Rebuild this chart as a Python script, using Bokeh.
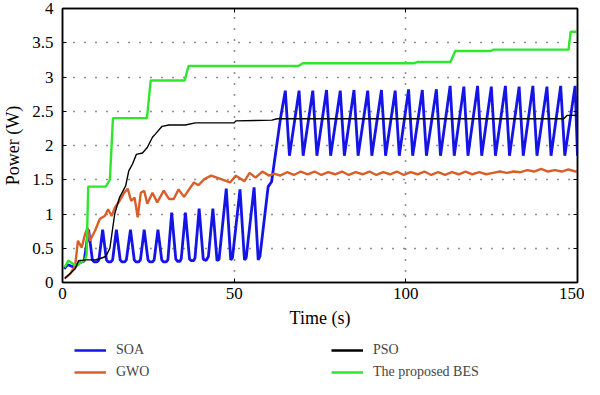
from bokeh.plotting import figure
from bokeh.models import Range1d, FixedTicker, LinearAxis, Legend, LegendItem
from bokeh.layouts import column
from bokeh.embed import file_html
from bokeh.resources import INLINE

# ---------------- data ----------------
soa_t = [0.5, 1.5, 2.5, 3.5, 4.5, 5.5, 6.3, 7.6,
         8.7, 9.2, 10.0, 10.6, 11.7,
         12.8, 13.3, 14.1, 14.6, 15.7,
         16.8, 17.3, 18.1, 18.6, 19.8,
         20.9, 21.4, 22.2, 22.7, 23.8,
         24.9, 25.4, 26.2, 26.7, 27.8,
         28.9, 29.4, 30.2, 30.7, 31.8,
         33.0, 33.5, 34.2, 34.6, 35.8,
         37.0, 37.5, 38.2, 38.6, 39.8,
         41.0, 41.8, 42.5, 43.8,
         45.0, 45.6, 47.7,
         49.0, 49.5, 51.7,
         53.0, 53.5, 55.8,
         57.0, 57.5, 59.9, 60.9, 63.5, 64.9,
         66.1, 68.9, 70.1, 72.9, 74.1, 76.9, 78.1, 80.9, 82.1, 84.9,
         86.1, 88.9, 90.1, 92.9, 94.1, 96.9, 98.1, 100.8, 102.0, 104.8,
         106.0, 108.9, 110.1, 112.9, 114.1, 116.9, 118.1, 120.9, 122.1, 124.9,
         126.1, 129.0, 130.2, 133.0, 134.2, 137.0, 138.2, 141.1, 142.3, 145.1,
         146.3, 149.3, 150.0]
soa_p = [0.20, 0.26, 0.24, 0.22, 0.27, 0.30, 0.31, 0.77,
         0.33, 0.30, 0.30, 0.33, 0.77,
         0.33, 0.30, 0.30, 0.33, 0.77,
         0.33, 0.30, 0.30, 0.33, 0.77,
         0.33, 0.30, 0.30, 0.33, 0.77,
         0.33, 0.30, 0.30, 0.33, 0.77,
         0.33, 0.30, 0.30, 0.33, 1.02,
         0.34, 0.31, 0.31, 0.35, 1.02,
         0.34, 0.32, 0.32, 0.36, 1.08,
         0.34, 0.32, 0.38, 1.08,
         0.32, 0.34, 1.37,
         0.33, 0.36, 1.36,
         0.33, 0.36, 1.39,
         0.33, 0.38, 1.40, 1.47, 2.40, 2.80,
         1.85, 2.80, 1.85, 2.80, 1.85, 2.81, 1.85, 2.80, 1.85, 2.81,
         1.85, 2.80, 1.85, 2.81, 1.85, 2.80, 1.85, 2.82, 1.85, 2.81,
         1.85, 2.82, 1.85, 2.87, 1.85, 2.86, 1.85, 2.87, 1.85, 2.86,
         1.85, 2.87, 1.85, 2.86, 1.85, 2.87, 1.85, 2.86, 1.85, 2.87,
         1.85, 2.87, 1.85]

gwo_t = [0.6, 2.3, 3.7, 4.5, 5.6, 6.6, 7.3, 8.0, 9.5, 10.9, 12.3, 13.3, 14.3,
         15.2, 16.6, 18.0, 19.0, 20.0, 21.0, 21.9, 22.8, 23.8, 24.7, 26.2,
         27.6, 29.5, 31.0, 32.4, 33.8, 35.4, 37.3, 38.3, 39.6, 41.3, 43.3,
         46.2, 48.8, 50.5, 53.0, 54.5, 56.2, 58.2, 60.2, 61.7, 63.4, 65.4,
         67.4, 69.4, 71.4, 73.4, 75.4, 77.4, 79.4, 81.4, 83.4, 85.4, 87.4,
         89.4, 91.4, 93.4, 95.4, 97.4, 99.4, 101.4, 103.4, 105.4, 107.4,
         109.4, 111.4, 113.4, 115.4, 117.4, 119.4, 121.4, 123.4, 125.4,
         127.4, 129.4, 131.4, 133.4, 135.4, 137.4, 139.4, 141.4, 143.4,
         145.4, 147.4, 149.5, 150.0]
gwo_p = [0.06, 0.13, 0.25, 0.61, 0.51, 0.71, 0.80, 0.61, 0.76, 0.93, 0.97, 1.07, 0.97,
         1.09, 1.19, 1.31, 1.37, 1.19, 1.24, 0.95, 1.31, 1.34, 1.15, 1.31,
         1.17, 1.34, 1.22, 1.22, 1.36, 1.25, 1.39, 1.46, 1.42, 1.51, 1.56,
         1.51, 1.46, 1.56, 1.48, 1.60, 1.53, 1.62, 1.56, 1.59, 1.56, 1.61,
         1.57, 1.62, 1.58, 1.62, 1.57, 1.61, 1.58, 1.62, 1.57, 1.61, 1.58,
         1.62, 1.57, 1.61, 1.58, 1.62, 1.57, 1.61, 1.58, 1.62, 1.57,
         1.61, 1.57, 1.61, 1.58, 1.62, 1.58, 1.61, 1.58, 1.60,
         1.62, 1.60, 1.62, 1.61, 1.64, 1.62, 1.66, 1.62, 1.64,
         1.62, 1.65, 1.62, 1.63]

pso_t = [0.7, 2.0, 3.7, 4.7, 7.0, 9.5, 11.0, 12.6, 13.8, 15.2, 16.6, 18.4, 19.3,
         20.4, 21.5, 23.3, 24.7, 26.2, 27.1, 29.0, 31.0, 35.8, 38.7, 50.0,
         50.5, 61.0, 62.5, 146.0, 147.0, 150.0]
pso_p = [0.06, 0.12, 0.20, 0.32, 0.33, 0.33, 0.35, 0.38, 0.50, 1.00, 1.24, 1.41, 1.63,
         1.73, 1.87, 1.89, 1.97, 2.12, 2.17, 2.28, 2.30, 2.30, 2.33, 2.33,
         2.36, 2.37, 2.39, 2.39, 2.44, 2.44]

bes_t = [0.6, 1.7, 3.7, 5.0, 6.5, 7.0, 7.5, 12.6, 13.8, 14.7, 24.6, 25.7, 35.6,
         36.7, 68.7, 70.0, 102.2, 103.5, 113.0, 114.4, 124.7, 125.5, 147.4,
         148.0, 150.0]
bes_p = [0.22, 0.32, 0.25, 0.28, 0.33, 0.40, 1.40, 1.40, 1.50, 2.40, 2.40, 2.95, 2.95,
         3.16, 3.16, 3.20, 3.20, 3.22, 3.22, 3.38, 3.38, 3.40, 3.40,
         3.66, 3.66]

x_ticks = [0, 50, 100, 150]
y_ticks = [0, 0.5, 1, 1.5, 2, 2.5, 3, 3.5, 4]
y_tick_labels = ["0", "0.5", "1", "1.5", "2", "2.5", "3", "3.5", "4"]

names = ["SOA", "GWO", "PSO", "The proposed BES"]
colors = ["#1414e6", "#d95f2a", "#000000", "#2ee62e"]
widths = [2.8, 2.4, 1.4, 2.4]

FONT = "Liberation Serif"

# ---------------- main figure ----------------
p = figure(width=584, height=330, output_backend="svg", toolbar_location=None,
           x_range=Range1d(0, 150), y_range=Range1d(0, 4),
           min_border_left=10, min_border_right=7, min_border_top=8,
           min_border_bottom=0)
p.background_fill_color = "white"
p.border_fill_color = "white"
p.outline_line_color = "black"
p.outline_line_width = 1.5

for ax in (p.xaxis[0], p.yaxis[0]):
    ax.axis_line_width = 1.5
    ax.major_tick_in = 4
    ax.major_tick_out = 0
    ax.minor_tick_line_color = None
    ax.major_label_text_font = FONT
    ax.major_label_text_font_size = "17px"
    ax.major_label_text_color = "black"
    ax.axis_label_text_font = FONT
    ax.axis_label_text_font_size = "18px"
    ax.axis_label_text_font_style = "normal"
    ax.axis_label_text_color = "black"

p.xaxis[0].ticker = FixedTicker(ticks=x_ticks)
p.yaxis[0].ticker = FixedTicker(ticks=y_ticks)
p.yaxis[0].major_label_overrides = {t: l for t, l in zip(y_ticks, y_tick_labels)}
p.xaxis[0].axis_label = "Time (s)"
p.yaxis[0].axis_label = "Power (W)"
p.xaxis[0].major_label_standoff = 5
p.yaxis[0].major_label_standoff = 9
p.xaxis[0].axis_label_standoff = 6
p.yaxis[0].axis_label_standoff = 6

# mirrored tick marks on right / top (no labels)
rax = LinearAxis(ticker=FixedTicker(ticks=y_ticks),
                 major_label_overrides={t: "" for t in y_ticks},
                 major_tick_in=4, major_tick_out=0, minor_tick_line_color=None,
                 axis_line_width=1.5, major_label_standoff=0)
tax = LinearAxis(ticker=FixedTicker(ticks=x_ticks),
                 major_label_overrides={t: "" for t in x_ticks},
                 major_tick_in=4, major_tick_out=0, minor_tick_line_color=None,
                 axis_line_width=1.5, major_label_standoff=0)
p.add_layout(rax, "right")
p.add_layout(tax, "above")

for g in (p.xgrid[0], p.ygrid[0]):
    g.grid_line_color = "#222222"
    g.grid_line_dash = "1 10"
    g.grid_line_width = 1.6
p.xgrid[0].ticker = FixedTicker(ticks=x_ticks)
p.ygrid[0].ticker = FixedTicker(ticks=y_ticks)

series = [(soa_t, soa_p), (gwo_t, gwo_p), (pso_t, pso_p), (bes_t, bes_p)]
for i in [0, 1, 3, 2]:
    t, v = series[i]
    p.line(t, v, line_color=colors[i], line_width=widths[i])

# ---------------- legend strip (same series, drawn out of view) ----------------
lg = figure(width=584, height=49, output_backend="svg", toolbar_location=None,
            x_range=Range1d(1000, 1001), y_range=Range1d(1000, 1001),
            x_axis_location=None, y_axis_location=None,
            min_border_left=29, min_border_right=0, min_border_top=0,
            min_border_bottom=0)
lg.outline_line_color = None
lg.grid.visible = False
lg.background_fill_color = "white"
lg.border_fill_color = "white"

legend_renderers = [lg.line(series[i][0], series[i][1], line_color=colors[i], line_width=2.5)
                    for i in range(4)]
items = [LegendItem(label=names[i], renderers=[legend_renderers[i]]) for i in range(4)]
legend = Legend(items=items, orientation="vertical", nrows=2,
                label_text_font=FONT, label_text_font_size="14px",
                label_width=209, glyph_width=32, glyph_height=16,
                label_height=16, label_standoff=10, spacing=6,
                padding=0, margin=12,
                border_line_color=None, background_fill_alpha=0,
                location="top_left")
lg.add_layout(legend)

layout = column(p, lg, spacing=0)
open("out.html", "w").write(file_html(layout, INLINE))
